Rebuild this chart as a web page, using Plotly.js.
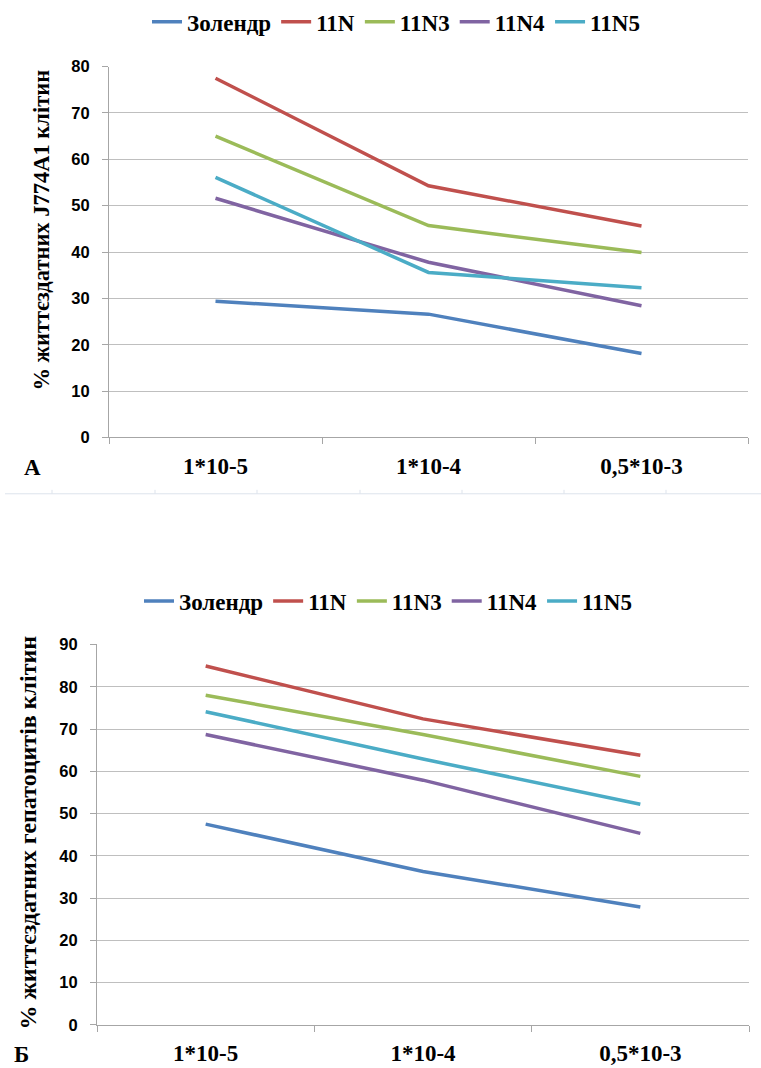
<!DOCTYPE html>
<html><head><meta charset="utf-8">
<script src="https://cdn.plot.ly/plotly-3.0.1.min.js"></script>
<style>html,body{margin:0;padding:0;background:#fff}#chart{width:761px;height:1068px}</style>
</head><body><div id="chart"></div>
<script>
const categories = ["1*10-5", "1*10-4", "0,5*10-3"];
const seriesNames = ["Золендр", "11N", "11N3", "11N4", "11N5"];
const colors = ["#4F81BD", "#C0504D", "#9BBB59", "#8064A2", "#4BACC6"];

// Chart A: % viable J774A1 cells
const zolendrA = [29.4, 26.6, 18.1];
const n11A     = [77.5, 54.3, 45.6];
const n11N3A   = [65.0, 45.7, 39.9];
const n11N4A   = [51.6, 37.8, 28.4];
const n11N5A   = [56.1, 35.6, 32.3];

// Chart Б: % viable hepatocytes
const zolendrB = [47.5, 36.3, 27.9];
const n11B     = [84.9, 72.4, 63.8];
const n11N3B   = [78.0, 68.7, 58.8];
const n11N4B   = [68.7, 57.9, 45.3];
const n11N5B   = [74.1, 62.9, 52.2];

const yTitleA = "% життєздатних J774A1 клітин";
const yTitleB = "% життєздатних гепатоцитів клітин";

const dataA = [zolendrA, n11A, n11N3A, n11N4A, n11N5A];
const dataB = [zolendrB, n11B, n11N3B, n11N4B, n11N5B];

const W = 761, H = 1068;
const serif = "Liberation Serif, Times New Roman, serif";
const sans = "Liberation Sans, Arial, sans-serif";

const traces = [];
dataA.forEach((v, i) => traces.push({
  x: categories, y: v, type: "scatter", mode: "lines", name: seriesNames[i],
  line: {color: colors[i], width: 3.5}, xaxis: "x", yaxis: "y", legend: "legend"
}));
dataB.forEach((v, i) => traces.push({
  x: categories, y: v, type: "scatter", mode: "lines", name: seriesNames[i],
  line: {color: colors[i], width: 3.5}, xaxis: "x2", yaxis: "y2", legend: "legend2"
}));

const px = v => v / W;
const py = v => 1 - v / H;

const yaxisCommon = {
  dtick: 10, showgrid: true, gridcolor: "#BFBFBF", gridwidth: 1,
  showline: true, linecolor: "#A6A6A6", linewidth: 1, zeroline: false,
  ticks: "outside", ticklen: 6, tickcolor: "#A6A6A6",
  tickfont: {family: sans, size: 16.5, color: "#000", weight: "bold"},
  ticklabelstandoff: 9, fixedrange: true
};
const xaxisCommon = {
  type: "category", range: [-0.5, 2.5], showgrid: false,
  showline: true, linecolor: "#A6A6A6", linewidth: 1, zeroline: false,
  ticks: "outside", ticklen: 6, tickcolor: "#A6A6A6", tickson: "boundaries",
  tickfont: {family: serif, size: 23, color: "#000", weight: "bold"},
  ticklabelstandoff: 8, fixedrange: true
};

const legendCommon = {
  orientation: "h", xanchor: "center", yanchor: "middle",
  font: {family: serif, size: 23, color: "#000", weight: "bold"},
  itemwidth: 30, bgcolor: "rgba(0,0,0,0)", tracegroupgap: 0
};

// faint separator line with small ticks
const shapes = [{type: "line", xref: "paper", yref: "paper", x0: px(5), x1: 1, y0: py(490), y1: py(490),
  line: {color: "#DDE3EC", width: 1}}];
[52, 155, 257, 360, 462, 564, 666].forEach(t => shapes.push({
  type: "line", xref: "paper", yref: "paper", x0: px(t), x1: px(t), y0: py(490), y1: py(486),
  line: {color: "#DDE3EC", width: 1}}));

const layout = {
  width: W, height: H, margin: {l: 0, r: 0, t: 0, b: 0},
  paper_bgcolor: "#fff", plot_bgcolor: "#fff", showlegend: true,
  xaxis: Object.assign({}, xaxisCommon, {domain: [px(109), px(748)], anchor: "y"}),
  yaxis: Object.assign({}, yaxisCommon, {domain: [py(433.3), py(60)], range: [0, 80], anchor: "x"}),
  xaxis2: Object.assign({}, xaxisCommon, {domain: [px(97), px(749)], anchor: "y2"}),
  yaxis2: Object.assign({}, yaxisCommon, {domain: [py(1024.6), py(641.7)], range: [0, 90], anchor: "x2"}),
  legend: Object.assign({}, legendCommon, {x: px(396), y: py(15)}),
  legend2: Object.assign({}, legendCommon, {x: px(388), y: py(598)}),
  shapes: shapes,
  annotations: [
    {text: yTitleA, xref: "paper", yref: "paper", x: px(42), y: py(225), textangle: -90, showarrow: false,
     xanchor: "center", yanchor: "middle", font: {family: serif, size: 22.5, color: "#000", weight: "bold"}},
    {text: yTitleB, xref: "paper", yref: "paper", x: px(28), y: py(831), textangle: -90, showarrow: false,
     xanchor: "center", yanchor: "middle", font: {family: serif, size: 24, color: "#000", weight: "bold"}},
    {text: "А", xref: "paper", yref: "paper", x: px(32), y: py(464), showarrow: false,
     xanchor: "center", yanchor: "middle", font: {family: serif, size: 23, color: "#000", weight: "bold"}},
    {text: "Б", xref: "paper", yref: "paper", x: px(21), y: py(1054), showarrow: false,
     xanchor: "center", yanchor: "middle", font: {family: serif, size: 23, color: "#000", weight: "bold"}}
  ]
};

Plotly.newPlot("chart", traces, layout, {staticPlot: true, displayModeBar: false});
</script></body></html>
